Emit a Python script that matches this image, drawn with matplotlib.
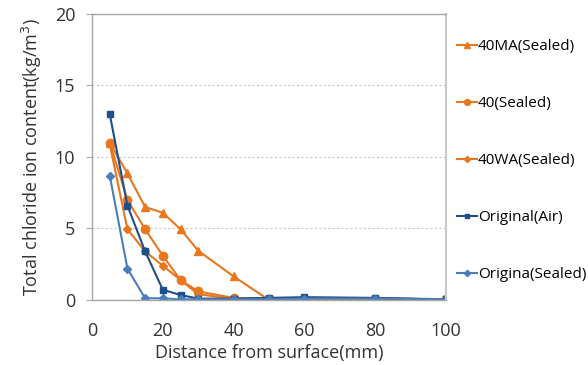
import matplotlib.pyplot as plt

plt.rcParams['font.family'] = ['Open Sans', 'DejaVu Sans']

depth = [5, 10, 15, 20, 25, 30, 40, 50, 60, 80, 100]

ma40_sealed = [11.0, 8.85, 6.5, 6.1, 4.95, 3.45, 1.65, 0.0, 0.1, 0.1, 0.05]
c40_sealed = [11.0, 7.0, 4.95, 3.1, 1.4, 0.6, 0.15, 0.1, 0.1, 0.1, 0.05]
wa40_sealed = [10.9, 4.95, 3.4, 2.4, 1.4, 0.4, 0.1, 0.1, 0.1, 0.1, 0.05]
original_air = [13.0, 6.6, 3.4, 0.72, 0.35, 0.1, 0.1, 0.15, 0.2, 0.15, 0.05]
original_sealed = [8.7, 2.2, 0.12, 0.12, 0.05, 0.05, 0.05, 0.05, 0.1, 0.1, 0.05]

orange = '#E8771E'
navy = '#1F4E8C'
blue = '#4A7EBB'

series = [
    ('40MA(Sealed)', ma40_sealed, orange, '^', 6),
    ('40(Sealed)', c40_sealed, orange, 'o', 6),
    ('40WA(Sealed)', wa40_sealed, orange, 'D', 4.5),
    ('Original(Air)', original_air, navy, 's', 5),
    ('Origina(Sealed)', original_sealed, blue, 'D', 4.5),
]

fig = plt.figure(figsize=(5.88, 3.65), dpi=100)
ax = fig.add_axes([0.1565, 0.178, 0.602, 0.784])

for label, vals, color, marker, ms in series:
    ax.plot(depth, vals, color=color, marker=marker, markersize=ms,
            linewidth=1.5, label=label)

ax.set_xlim(0, 100)
ax.set_ylim(0, 20)
ax.set_xticks([0, 20, 40, 60, 80, 100])
ax.set_yticks([0, 5, 10, 15, 20])
ax.grid(axis='y', color='#C8C8C8', linestyle=(0, (2, 2)), linewidth=0.8)
ax.set_axisbelow(True)
for s in ax.spines.values():
    s.set_color('#A6A6A6')
    s.set_linewidth(1.0)
ax.spines['right'].set_color('#C8C8C8')
ax.spines['right'].set_linewidth(1.5)
ax.tick_params(axis='both', labelsize=13, colors='#A6A6A6', labelcolor='#333333', length=4)
ax.tick_params(axis='x', length=0, pad=16)
ax.tick_params(axis='y', pad=8)

ax.set_xlabel('Distance from surface(mm)', fontsize=13, color='#333333', labelpad=3)
ax.set_ylabel('Total chloride ion content(kg/m$^3$)', fontsize=13, color='#333333', labelpad=8)

ax.legend(loc='upper left', bbox_to_anchor=(1.0, 0.95), frameon=False,
          fontsize=11, handlelength=1.3, handletextpad=0.1, labelspacing=2.75,
          markerscale=0.7, borderaxespad=0.3)

fig.savefig('out.png', dpi=100)
